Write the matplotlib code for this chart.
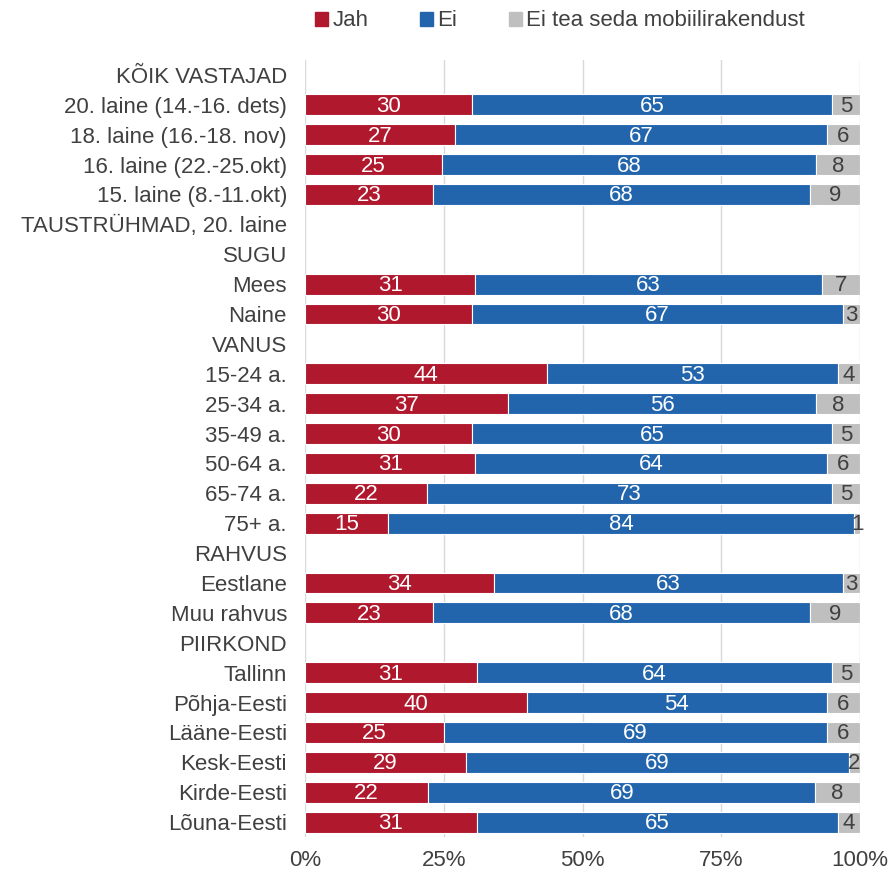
import matplotlib
matplotlib.use("Agg")
import matplotlib.pyplot as plt
import numpy as np

plt.rcParams['font.family'] = ['Liberation Sans', 'DejaVu Sans']

categories = ["KÕIK VASTAJAD", "20. laine (14.-16. dets)", "18. laine (16.-18. nov)",
              "16. laine (22.-25.okt)", "15. laine (8.-11.okt)", "TAUSTRÜHMAD, 20. laine",
              "SUGU", "Mees", "Naine", "VANUS", "15-24 a.", "25-34 a.", "35-49 a.",
              "50-64 a.", "65-74 a.", "75+ a.", "RAHVUS", "Eestlane", "Muu rahvus",
              "PIIRKOND", "Tallinn", "Põhja-Eesti", "Lääne-Eesti", "Kesk-Eesti",
              "Kirde-Eesti", "Lõuna-Eesti"]
jah = [None, 30, 27, 25, 23, None, None, 31, 30, None, 44, 37, 30, 31, 22, 15,
       None, 34, 23, None, 31, 40, 25, 29, 22, 31]
ei = [None, 65, 67, 68, 68, None, None, 63, 67, None, 53, 56, 65, 64, 73, 84,
      None, 63, 68, None, 64, 54, 69, 69, 69, 65]
ei_tea = [None, 5, 6, 8, 9, None, None, 7, 3, None, 4, 8, 5, 6, 5, 1,
          None, 3, 9, None, 5, 6, 6, 2, 8, 4]
series_names = ["Jah", "Ei", "Ei tea seda mobiilirakendust"]
colors = ["#B0182D", "#2265AD", "#BFBFBF"]
text_colors = ["white", "white", "#404040"]
FS = 16

fig = plt.figure(figsize=(8.92, 8.73), dpi=100)
ax = fig.add_axes([305/892, 1-837/873, 555/892, (837-60)/873])

n = len(categories)
y = np.arange(n)
for i in range(n):
    if jah[i] is None:
        continue
    vals = np.array([jah[i], ei[i], ei_tea[i]], dtype=float)
    frac = vals / vals.sum()
    left = 0.0
    for k in range(3):
        ax.barh(y[i], frac[k], left=left, height=0.7, color=colors[k],
                edgecolor="white", linewidth=0.8, zorder=3)
        ax.text(left + frac[k]/2, y[i] + 0.05, str(int(vals[k])), ha="center", va="center",
                color=text_colors[k], fontsize=FS, zorder=4)
        left += frac[k]

ax.set_ylim(n - 0.5, -0.5)
ax.set_xlim(0, 1)
ax.set_yticks(y)
ax.set_yticklabels(categories, fontsize=FS, color="#404040")
ax.set_xticks([0, 0.25, 0.5, 0.75, 1.0])
ax.set_xticklabels(["0%", "25%", "50%", "75%", "100%"], fontsize=FS, color="#404040")
ax.tick_params(axis="both", length=0)
ax.tick_params(axis="y", pad=13)
ax.tick_params(axis="x", pad=9)
for s in ax.spines.values():
    s.set_visible(False)
ax.grid(axis="x", color="#D9D9D9", linewidth=1, zorder=0)
ax.set_axisbelow(True)

handles = [plt.Rectangle((0, 0), 1, 1, color=c) for c in colors]
fig.legend(handles, series_names, loc="center", bbox_to_anchor=(560/892, 1-21/873),
           ncol=3, frameon=False, fontsize=FS, handlelength=0.6, handleheight=0.6,
           handletextpad=0.2, columnspacing=2.3, labelcolor="#404040")

fig.savefig("out.png", dpi=100)
